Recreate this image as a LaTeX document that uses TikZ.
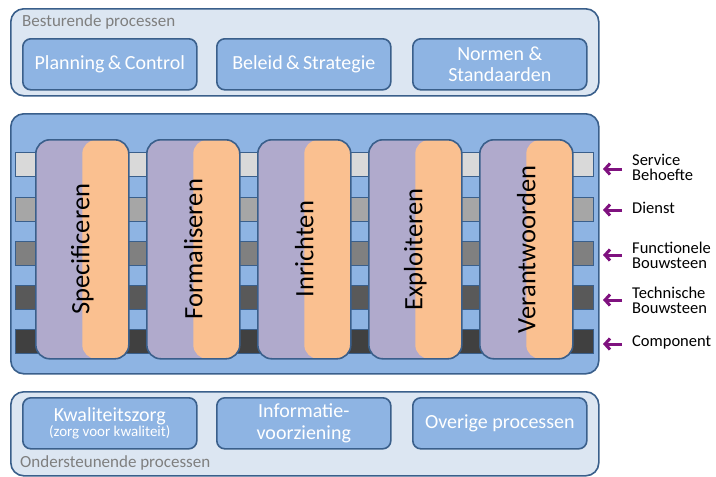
\documentclass[tikz,border=0pt]{standalone}
\usepackage{fontspec}
\setmainfont{Carlito}
\usetikzlibrary{arrows.meta}
\definecolor{bord}{HTML}{3A5F8B}
\definecolor{pale}{HTML}{DCE6F2}
\definecolor{midblue}{HTML}{8EB4E3}
\definecolor{lav}{HTML}{B0AACC}
\definecolor{peach}{HTML}{FAC090}
\definecolor{arr}{HTML}{7F127F}
\definecolor{capgray}{HTML}{7F7F7F}
\definecolor{s1}{HTML}{D9D9D9}
\definecolor{s2}{HTML}{A6A6A6}
\definecolor{s3}{HTML}{808080}
\definecolor{s4}{HTML}{595959}
\definecolor{s5}{HTML}{404040}
\begin{document}
\begin{tikzpicture}[x=1pt,y=-1pt,
  group/.style={draw=bord, line width=1.6pt, rounded corners=13pt, anchor=north west, inner sep=0pt, minimum width=588pt},
  proc/.style={draw=bord, line width=1.6pt, fill=midblue, rounded corners=8pt, anchor=north west, inner sep=0pt,
     minimum width=174pt, minimum height=51pt, text=white, align=center},
  strip/.style={draw=bord, line width=1.2pt, anchor=north west, inner sep=0pt, minimum width=578pt, minimum height=24pt},
  pillar/.style={draw=bord, line width=1.6pt, fill=lav, rounded corners=14pt, anchor=north west, inner sep=0pt,
     minimum width=93pt, minimum height=219pt,
     path picture={\fill[peach] (path picture bounding box.north) rectangle (path picture bounding box.south east);}},
  ptext/.style={rotate=90, font=\fontsize{26.5}{28}\selectfont, inner sep=0pt},
  caption/.style={text=capgray, font=\fontsize{17}{18}\selectfont, anchor=west, inner sep=0pt},
  lbl/.style={anchor=west, align=left, inner sep=0pt, font=\fontsize{16.5}{15}\selectfont},
  arrowc/.style={draw=arr, line width=3pt, -{Straight Barb[length=5pt,width=11pt]}},
  big/.style={font=\fontsize{20}{21}\selectfont}
]
\useasboundingbox (0,0) rectangle (716,477);

% top group
\node[group, fill=pale, minimum height=87pt] (top) at (10,8) {};
\node[caption] (topcap) at (22,22) {Besturende processen};
\node[proc, big] (pc) at (22,38) {Planning\,\&\,Control};
\node[proc, big] (bs) at (216,38) {Beleid\,\&\,Strategie};
\node[proc, big] (ns) at (412,38) {Normen \&\\Standaarden};

% middle group
\node[group, fill=midblue, minimum height=260pt] (mid) at (10,113) {};
\node[strip, fill=s1] (r1) at (15,152) {};
\node[strip, fill=s2] (r2) at (15,197) {};
\node[strip, fill=s3] (r3) at (15,241) {};
\node[strip, fill=s4] (r4) at (15,285) {};
\node[strip, fill=s5] (r5) at (15,329) {};

\node[pillar] (p1) at (35,139) {};
\node[pillar] (p2) at (146,139) {};
\node[pillar] (p3) at (257,139) {};
\node[pillar] (p4) at (368,139) {};
\node[pillar] (p5) at (479,139) {};
\node[ptext] (t1) at (p1.center) {Specificeren};
\node[ptext] (t2) at (p2.center) {Formaliseren};
\node[ptext] (t3) at (p3.center) {Inrichten};
\node[ptext] (t4) at (p4.center) {Exploiteren};
\node[ptext] (t5) at (p5.center) {Verantwoorden};

% right labels and arrows
\node[lbl] (l1) at (632,167) {Service\\Behoefte};
\node[lbl] (l2) at (632,208) {Dienst};
\node[lbl] (l3) at (632,255) {Functionele\\Bouwsteen};
\node[lbl] (l4) at (632,300) {Technische\\Bouwsteen};
\node[lbl] (l5) at (632,342) {Component};
\coordinate (a1) at (622,169); \coordinate (b1) at (603,169);
\coordinate (a2) at (622,210); \coordinate (b2) at (603,210);
\coordinate (a3) at (622,255); \coordinate (b3) at (603,255);
\coordinate (a4) at (622,300); \coordinate (b4) at (603,300);
\coordinate (a5) at (622,344); \coordinate (b5) at (603,344);
\draw[arrowc] (a1) -- (b1);
\draw[arrowc] (a2) -- (b2);
\draw[arrowc] (a3) -- (b3);
\draw[arrowc] (a4) -- (b4);
\draw[arrowc] (a5) -- (b5);

% bottom group
\node[group, fill=pale, minimum height=84pt] (bot) at (10,391) {};
\node[proc] (kz) at (22,397) {{\fontsize{20}{21}\selectfont Kwaliteitszorg}\\[0pt]{\fontsize{15}{16}\selectfont (zorg voor kwaliteit)}};
\node[proc, big] (iv) at (216,397) {Informatie-\\voorziening};
\node[proc, big] (op) at (412,397) {Overige processen};
\node[caption] (botcap) at (20,463) {Ondersteunende processen};
\end{tikzpicture}
\end{document}
